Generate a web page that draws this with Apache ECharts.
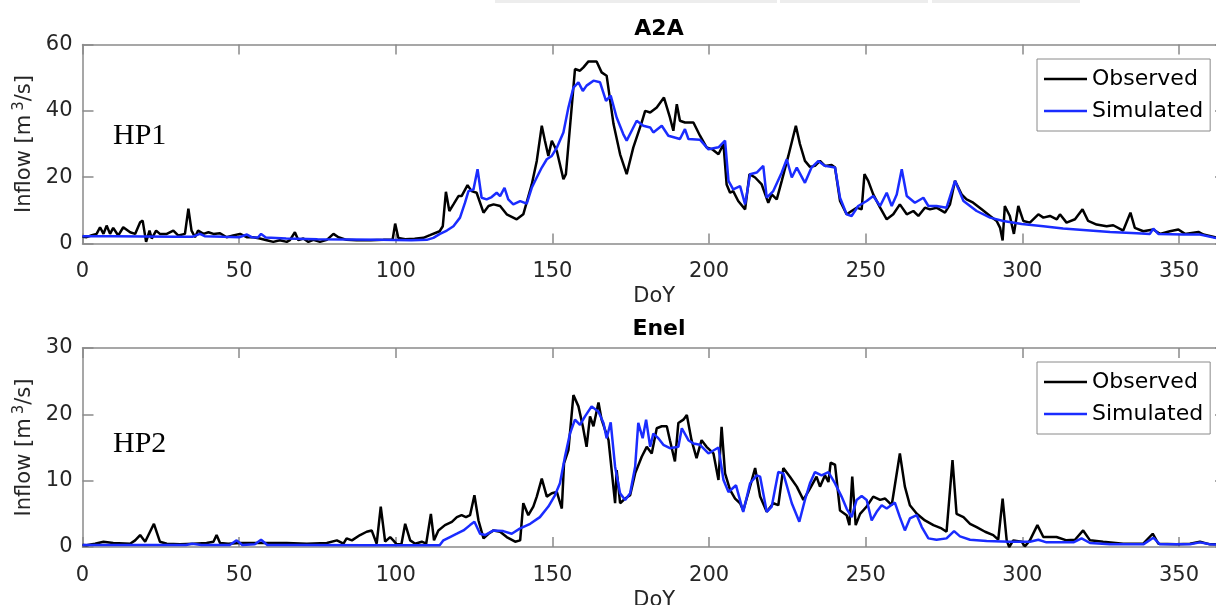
<!DOCTYPE html>
<html>
<head>
<meta charset="utf-8">
<title>Inflow A2A / Enel</title>
<script src="https://cdn.jsdelivr.net/npm/echarts@6.0.0/dist/echarts.min.js"></script>
<style>
  html, body { margin: 0; padding: 0; background: #fff; }
  #chart { width: 1216px; height: 605px; }
</style>
</head>
<body>
<div id="chart"></div>
<script>
// [DoY, inflow m3/s]
var obsA2A = [
  [0,2.0],[1.3,1.9],[3,2.5],[4.5,2.9],[5.6,4.9],[6.7,2.9],[7.7,5.4],[8.8,2.9],[9.8,4.7],[11.4,2.4],
  [13,4.9],[15.2,3.4],[16.8,2.9],[18.4,6.4],[19.2,6.9],[20.3,0.5],[21.4,3.9],[22.1,1.5],[23.5,3.9],[24.7,2.9],
  [26.9,2.9],[29,3.9],[30.6,2.4],[32.7,2.9],[33.8,10.5],[34.8,3.9],[35.9,1.9],[36.9,3.9],[38.6,2.9],[40.2,3.4],
  [41.8,2.9],[43.9,3.1],[46,1.9],[48.1,2.4],[50.3,2.9],[52.4,1.9],[54.5,1.9],[56.6,1.5],[58.8,1.0],[60.9,0.5],
  [63,1.0],[65.2,0.5],[66.2,1.0],[67.8,3.4],[68.9,1.0],[70.5,1.5],[72.1,0.5],[73.7,1.1],[75.8,0.5],[78,1.1],
  [80.1,2.9],[81.7,1.9],[84.3,1.1],[87.5,1.0],[92,1.0],[96,1.1],[99,1.2],[99.8,6],[100.8,1.7],[103,1.3],
  [106,1.4],[108.8,1.7],[110.9,2.5],[114,3.7],[115,5.2],[116,15.6],[117.1,9.8],[118.4,11.8],[120,14.3],[121,14.3],
  [122.9,17.6],[124.2,15.8],[125.8,15.3],[128,9.3],[129.6,11.3],[131.2,11.8],[133.3,11.3],[135.4,8.8],[138.6,7.3],[140.7,8.8],
  [143.4,17.8],[145,24.9],[146.6,35.5],[147.6,31],[148.7,26.4],[149.8,31],[151.4,27.9],[153.5,19.4],[154.3,20.9],[157.2,52.6],
  [158.8,52.1],[159.9,53.1],[161.5,54.9],[164.1,54.9],[165.7,51.6],[167.3,50.6],[169.5,36],[171.6,26.9],[173.7,20.9],[175.8,28.9],
  [178.5,36.5],[179.6,40],[181.2,39.5],[183.3,41],[185.6,44],[187.5,38],[188.6,34],[189.7,42],[190.7,37],[192.3,36.5],
  [195,36.5],[197.1,32.5],[199.2,29],[201,28.4],[203,26.9],[204.6,30],[205.6,17.8],[206.7,15.3],[207.7,15.8],[209.3,12.8],
  [211.5,10.3],[212.9,20.9],[214.7,19.9],[216.8,17.8],[218.9,12.3],[220,14.8],[221.6,13.3],[223.2,18.9],[225.3,26.4],[227.7,35.5],
  [229,30],[230.6,24.9],[232.2,23.1],[233.8,23.4],[235.4,24.9],[237,23.4],[239.1,23.7],[240.2,22.9],[241.8,12.8],[243.9,8.8],
  [245.5,9.8],[247.1,10.8],[248.7,10.3],[249.6,20.9],[250.8,18.9],[252.4,14.8],[254.6,10.8],[256.7,7.3],[258.8,8.8],[260.9,11.8],
  [263.1,8.8],[265.2,9.8],[266.8,8.3],[268.9,10.8],[270.5,10.3],[272.6,10.8],[275.3,9.3],[276.9,11.8],[278.5,18.9],[280.6,14.8],
  [282.2,13.3],[284.3,12.3],[287,10.3],[289.7,8.3],[291.8,6.8],[292.9,4.7],[293.7,0.9],[294.4,11.3],[296,8.3],[297.3,2.9],
  [298.7,11.3],[300.3,6.8],[302.4,6.3],[305.1,8.8],[306.7,7.8],[308.8,8.3],[311,7.3],[312,8.8],[314.1,6.3],[316.8,7.3],
  [319.2,10.3],[321,6.8],[323.7,5.7],[326.9,5.2],[329,5.5],[332.2,3.9],[334.5,9.3],[335.9,4.7],[338.6,3.7],[341.8,4.2],
  [343.9,2.9],[347.1,3.7],[349.8,4.2],[351.9,2.9],[356.2,3.5],[357.8,2.7],[361.5,1.9],[365,2.0]
];
var simA2A = [
  [0,2.2],[10,2.2],[20,2.1],[30,2.0],[35,2.0],[37.5,2.9],[39,2.2],[45,2.0],[50,1.9],[52.5,2.7],
  [54,1.9],[56,1.8],[57,2.9],[58.5,1.8],[65,1.5],[75,1.3],[85,1.2],[95,1.1],[105,1.0],[109.9,1.1],
  [112,1.7],[114.1,2.9],[116.3,3.9],[118.4,5.2],[120.5,7.8],[122.1,12.3],[123.2,15.8],[124.8,16.3],[126.1,22.4],[127.4,13.8],
  [129,13.3],[130.6,14],[132.2,15.3],[133.3,14.3],[134.7,16.8],[135.9,13.3],[137.5,11.8],[139.7,12.8],[141.8,12],[143.4,16.8],
  [145,19.9],[146.6,22.9],[148.2,25.4],[149.8,26.4],[151.4,28.9],[153.5,33.5],[155.1,41],[156.7,47],[158.3,48.6],[159.7,46],
  [160.9,47.6],[163.1,49.1],[165.2,48.6],[167.1,43],[168.6,44.6],[170.5,38],[172.6,33],[173.7,31],[175.3,34],[176.9,37],
  [179,35.5],[181.2,35],[182.2,33.5],[184.9,35.5],[187,32.5],[190.7,31.5],[192.3,34.5],[193.4,31.5],[197.1,31.3],[199.8,28.4],
  [203,29],[205.1,31],[206.2,18.9],[207.7,16.3],[209.9,17.3],[211.5,11.8],[213.1,20.9],[215.2,21.4],[217.3,23.4],[218.4,13.8],
  [220.5,15.8],[223.2,21.4],[224.8,25.4],[226.4,19.9],[228,22.9],[230.6,18.3],[232.7,22.9],[234.9,24.9],[237,23.4],[240.2,22.9],
  [241.8,13.8],[243.9,8.8],[245.5,8.3],[247.6,11.3],[250.3,12.8],[252.4,14.3],[254.6,11.3],[256.7,15.3],[258.3,11.3],[259.9,14.8],
  [261.5,22.4],[263.1,14.3],[265.7,12.3],[268.4,13.8],[270,11.3],[272.6,11.3],[275.8,10.8],[278.5,18.9],[281.2,12.8],[285.4,9.8],
  [289.7,7.8],[293.9,6.8],[299.8,5.9],[306.7,5.2],[313,4.5],[319.4,4.1],[328,3.5],[336.5,3.1],[340.7,2.9],[341.8,4.5],
  [343.4,2.9],[351.4,2.7],[356.7,2.7],[361.5,1.7],[365,1.5]
];
var obsEnel = [
  [0,0.3],[1.3,0.25],[4,0.5],[6.7,0.8],[9.8,0.6],[15.2,0.5],[16.8,1.0],[18.4,1.8],[20,0.8],[22.8,3.5],
  [24.7,0.8],[26.9,0.5],[31.1,0.4],[35.4,0.5],[39.6,0.6],[41.8,0.8],[42.8,1.8],[43.9,0.6],[46.5,0.5],[50.3,0.6],
  [54.5,0.6],[58.8,0.6],[65.2,0.6],[71.6,0.5],[78,0.6],[81.2,1.0],[83.3,0.5],[84.3,1.3],[86,1.0],[88.6,1.8],
  [90.7,2.3],[92.3,2.5],[93.9,0.5],[95.2,6.1],[96.6,0.8],[98.2,1.5],[99.2,1.0],[100.3,0.4],[101.8,0.4],[103,3.5],
  [104.6,1.0],[106.2,0.5],[108.3,0.8],[109.7,0.5],[111.2,5.0],[112.2,1.0],[113.6,2.5],[115.7,3.3],[117.9,3.8],[119.5,4.5],
  [121,4.8],[122.4,4.5],[123.7,4.8],[125.1,7.8],[126.4,4.0],[128,1.3],[129.6,2.0],[131.2,2.5],[133.3,2.3],[135.4,1.5],
  [138.1,0.8],[139.7,1.0],[140.7,6.6],[142.3,4.8],[143.9,6.1],[145,7.6],[146.6,10.3],[148.2,7.6],[149.8,8.1],[151.4,8.3],
  [153,5.8],[153.7,12.6],[155.1,14.6],[156.7,22.9],[158.3,21.2],[159.7,18.2],[160.9,15.1],[162,19.7],[163.1,18.2],[164.7,21.8],
  [165.7,19.2],[167.9,16.1],[170,6.6],[170.5,11.6],[171.6,6.6],[173.2,7.3],[174.8,7.8],[176.4,11.1],[178.5,13.6],[180.1,15.1],
  [181.7,14.1],[183.3,17.9],[184.9,18.2],[186.5,18.2],[187.5,16.1],[189.1,12.9],[190.2,18.7],[191.8,19.2],[192.9,19.9],[194.4,16.1],
  [196,13.4],[197.6,16.1],[199.2,15.1],[201.4,14.1],[203,10.1],[204,18.1],[205.1,11.1],[206.7,8.6],[208.3,7.3],[209.9,6.6],
  [210.9,5.5],[212.5,8.1],[214.7,11.9],[216.3,7.6],[218.4,5.3],[220.5,6.6],[222.1,6.3],[223.7,11.9],[225.8,10.6],[228,9.1],
  [230.1,7.1],[232.2,8.8],[234.3,10.6],[235.4,9.1],[237,10.8],[238.1,9.8],[238.8,12.7],[240.2,12.4],[241.8,5.5],[243.9,4.8],
  [244.8,3.3],[245.7,10.6],[246.8,3.3],[248.2,5.0],[250.3,6.1],[252.4,7.6],[254.6,7.1],[256.2,7.3],[258.3,6.3],[260.9,14.1],
  [262.5,9.1],[264.1,6.3],[266.3,5.0],[268.9,4.0],[271.6,3.3],[274.2,2.8],[275.8,2.3],[277.7,13.1],[279,5.0],[281.2,4.5],
  [283.3,3.5],[285.4,3.0],[288.1,2.3],[290.7,1.8],[292.3,1.1],[293.7,7.3],[295,1.0],[295.8,0],[297.1,1.0],[299.8,0.8],
  [300.8,0.1],[302.4,1.0],[304.8,3.3],[306.7,1.5],[310.9,1.5],[314.1,1.0],[316.8,1.1],[319.4,2.5],[321.6,1.0],[325.8,0.8],
  [332.2,0.5],[338.6,0.5],[341.6,2.0],[343.4,0.5],[349.2,0.4],[353.5,0.5],[356.7,0.8],[359.9,0.4],[365,0.4]
];
var simEnel = [
  [0,0.3],[20,0.3],[33,0.3],[35,0.5],[38,0.3],[47,0.3],[49.2,1.0],[51,0.3],[55,0.4],[57,1.1],
  [59,0.3],[70,0.3],[90,0.25],[114,0.25],[115.2,1.0],[117.3,1.5],[119.5,2.0],[121.6,2.5],[123.7,3.3],[125.1,3.8],
  [126.9,2.0],[128.5,1.8],[131.2,2.5],[134.3,2.4],[137,2.0],[139.7,2.8],[142.9,3.5],[146,4.5],[148.7,6.1],[150.8,7.8],
  [152.4,9.6],[154,13.6],[155.6,17.1],[157.2,19.2],[158.8,18.4],[160.4,19.7],[162.5,21.2],[164.7,20.4],[166.3,18.7],[167.3,16.4],
  [168.6,18.8],[170,12.1],[171.6,8.1],[173.2,7.1],[174.8,8.1],[176.4,12.1],[177.4,18.7],[178.8,16.4],[179.9,19.2],[181.2,15.1],
  [182.2,17.1],[183.8,16.4],[185.4,15.4],[187.5,14.9],[190.2,15.1],[191.3,17.9],[193.4,16.1],[195,15.6],[197.1,15.4],[199.8,14.1],
  [203,15.0],[204.6,10.1],[206.2,8.3],[208.6,9.3],[210.9,5.3],[213.1,9.6],[215.2,10.8],[216.3,10.6],[218.4,5.3],[220,6.1],
  [222.1,11.3],[223.7,11.1],[226.4,6.6],[228.8,3.8],[230.6,7.1],[232.2,9.6],[233.8,11.3],[235.9,10.8],[238.1,11.3],[240.2,9.6],
  [242.3,7.6],[243.9,5.8],[245.5,4.5],[247.1,7.1],[248.7,7.7],[250.3,7.1],[251.9,4.0],[253.5,5.3],[255.1,6.3],[256.7,5.8],
  [259.3,6.7],[260.9,4.5],[262.5,2.5],[264.1,4.3],[266.3,4.8],[267.9,3.0],[270,1.3],[272.6,1.1],[275.8,1.3],[278.2,2.4],
  [280.1,1.6],[283.3,1.1],[288.6,0.9],[296,0.8],[302.4,0.8],[305.1,1.1],[307.7,0.7],[316.3,0.7],[318.9,1.3],[321.6,0.6],
  [328,0.4],[338.6,0.4],[341.8,1.4],[343.9,0.4],[353.5,0.4],[356.7,0.7],[359.9,0.4],[365,0.3]
];

var panelTitles = ['A2A', 'Enel'];
var panelTags = ['HP1', 'HP2'];
var seriesNames = ['Observed', 'Simulated'];
var yMax = [60, 30];
var yStep = [20, 10];

var FONT = 'DejaVu Sans';
var boxColor = '#8a8a8a';
var textColor = '#262626';
var obsColor = '#000000';
var simColor = '#1a2cff';

function xAxisOf(grid, pos) {
  var bottom = pos === 'bottom';
  return {
    type: 'value', gridIndex: grid, position: pos,
    min: 0, max: 365, interval: 50,
    name: bottom ? 'DoY' : '', nameLocation: 'middle', nameGap: 43,
    nameTextStyle: { fontFamily: FONT, fontSize: 21, color: textColor },
    axisLine: { show: true, onZero: false, lineStyle: { color: boxColor, width: 1.5 } },
    axisTick: { show: true, inside: true, length: 10, lineStyle: { color: boxColor, width: 1.5 } },
    axisLabel: { show: bottom, margin: 18, showMaxLabel: false, fontFamily: FONT, fontSize: 21, color: textColor },
    splitLine: { show: false }
  };
}
function yAxisOf(grid, pos) {
  var left = pos === 'left';
  return {
    type: 'value', gridIndex: grid, position: pos,
    min: 0, max: yMax[grid], interval: yStep[grid],
    name: left ? 'Inflow [m{sup|3}/s]' : '', nameLocation: 'middle', nameGap: 31,
    nameTextStyle: {
      fontFamily: FONT, fontSize: 21, color: textColor,
      rich: { sup: { fontFamily: FONT, fontSize: 15, color: textColor, padding: [0, 0, 10, 4] } }
    },
    axisLine: { show: true, onZero: false, lineStyle: { color: boxColor, width: 1.5 } },
    axisTick: { show: true, inside: true, length: 11, lineStyle: { color: boxColor, width: 1.5 } },
    axisLabel: { show: left, margin: 10, fontFamily: FONT, fontSize: 21, color: textColor },
    splitLine: { show: false }
  };
}
function lineOf(name, data, idx, color) {
  return {
    name: name, type: 'line', data: data,
    xAxisIndex: idx * 2, yAxisIndex: idx * 2,
    symbol: 'none', showSymbol: false,
    lineStyle: { color: color, width: 2.5 }, itemStyle: { color: color },
    z: color === obsColor ? 2 : 3
  };
}
function legendOf(top) {
  return {
    orient: 'vertical', left: 1037, top: top,
    data: [
      { name: seriesNames[0], icon: 'rect', itemStyle: { color: obsColor } },
      { name: seriesNames[1], icon: 'rect', itemStyle: { color: simColor } }
    ],
    itemWidth: 43, itemHeight: 2.5, itemGap: 10, padding: [9, 7],
    backgroundColor: '#fff', borderColor: '#8a8a8a', borderWidth: 1, borderRadius: 0,
    textStyle: { fontFamily: FONT, fontSize: 22, color: '#000', lineHeight: 22 }
  };
}

var chart = echarts.init(document.getElementById('chart'), null, { renderer: 'canvas' });
chart.setOption({
  animation: false,
  backgroundColor: '#fff',
  title: [
    { text: panelTitles[0], left: 654, top: 13, textAlign: 'center',
      textStyle: { fontFamily: FONT, fontSize: 22, fontWeight: 'bold', color: '#000' } },
    { text: panelTitles[1], left: 654, top: 313, textAlign: 'center',
      textStyle: { fontFamily: FONT, fontSize: 22, fontWeight: 'bold', color: '#000' } }
  ],
  legend: [legendOf(59), legendOf(362)],
  // fixed plot boxes; the right edge runs just past the canvas like the source
  grid: [
    { left: 82.5, right: -10, top: 44.5, height: 199, outerBoundsMode: 'none' },
    { left: 82.5, right: -10, top: 348, height: 199, outerBoundsMode: 'none' }
  ],
  xAxis: [xAxisOf(0, 'bottom'), xAxisOf(0, 'top'), xAxisOf(1, 'bottom'), xAxisOf(1, 'top')],
  yAxis: [yAxisOf(0, 'left'), yAxisOf(0, 'right'), yAxisOf(1, 'left'), yAxisOf(1, 'right')],
  graphic: [
    // faint strip left over at the top edge of the figure
    { type: 'rect', shape: { x: 495, y: 0, width: 282, height: 3 }, style: { fill: '#ededed' } },
    { type: 'rect', shape: { x: 780, y: 0, width: 148, height: 3 }, style: { fill: '#ededed' } },
    { type: 'rect', shape: { x: 932, y: 0, width: 148, height: 3 }, style: { fill: '#ededed' } },
    { type: 'text', x: 113, y: 136, style: { text: panelTags[0], font: '30px "Liberation Serif"', fill: '#000', verticalAlign: 'middle' } },
    { type: 'text', x: 113, y: 444, style: { text: panelTags[1], font: '30px "Liberation Serif"', fill: '#000', verticalAlign: 'middle' } }
  ],
  series: [
    lineOf(seriesNames[0], obsA2A, 0, obsColor),
    lineOf(seriesNames[1], simA2A, 0, simColor),
    lineOf(seriesNames[0], obsEnel, 1, obsColor),
    lineOf(seriesNames[1], simEnel, 1, simColor)
  ]
});
</script>
</body>
</html>
